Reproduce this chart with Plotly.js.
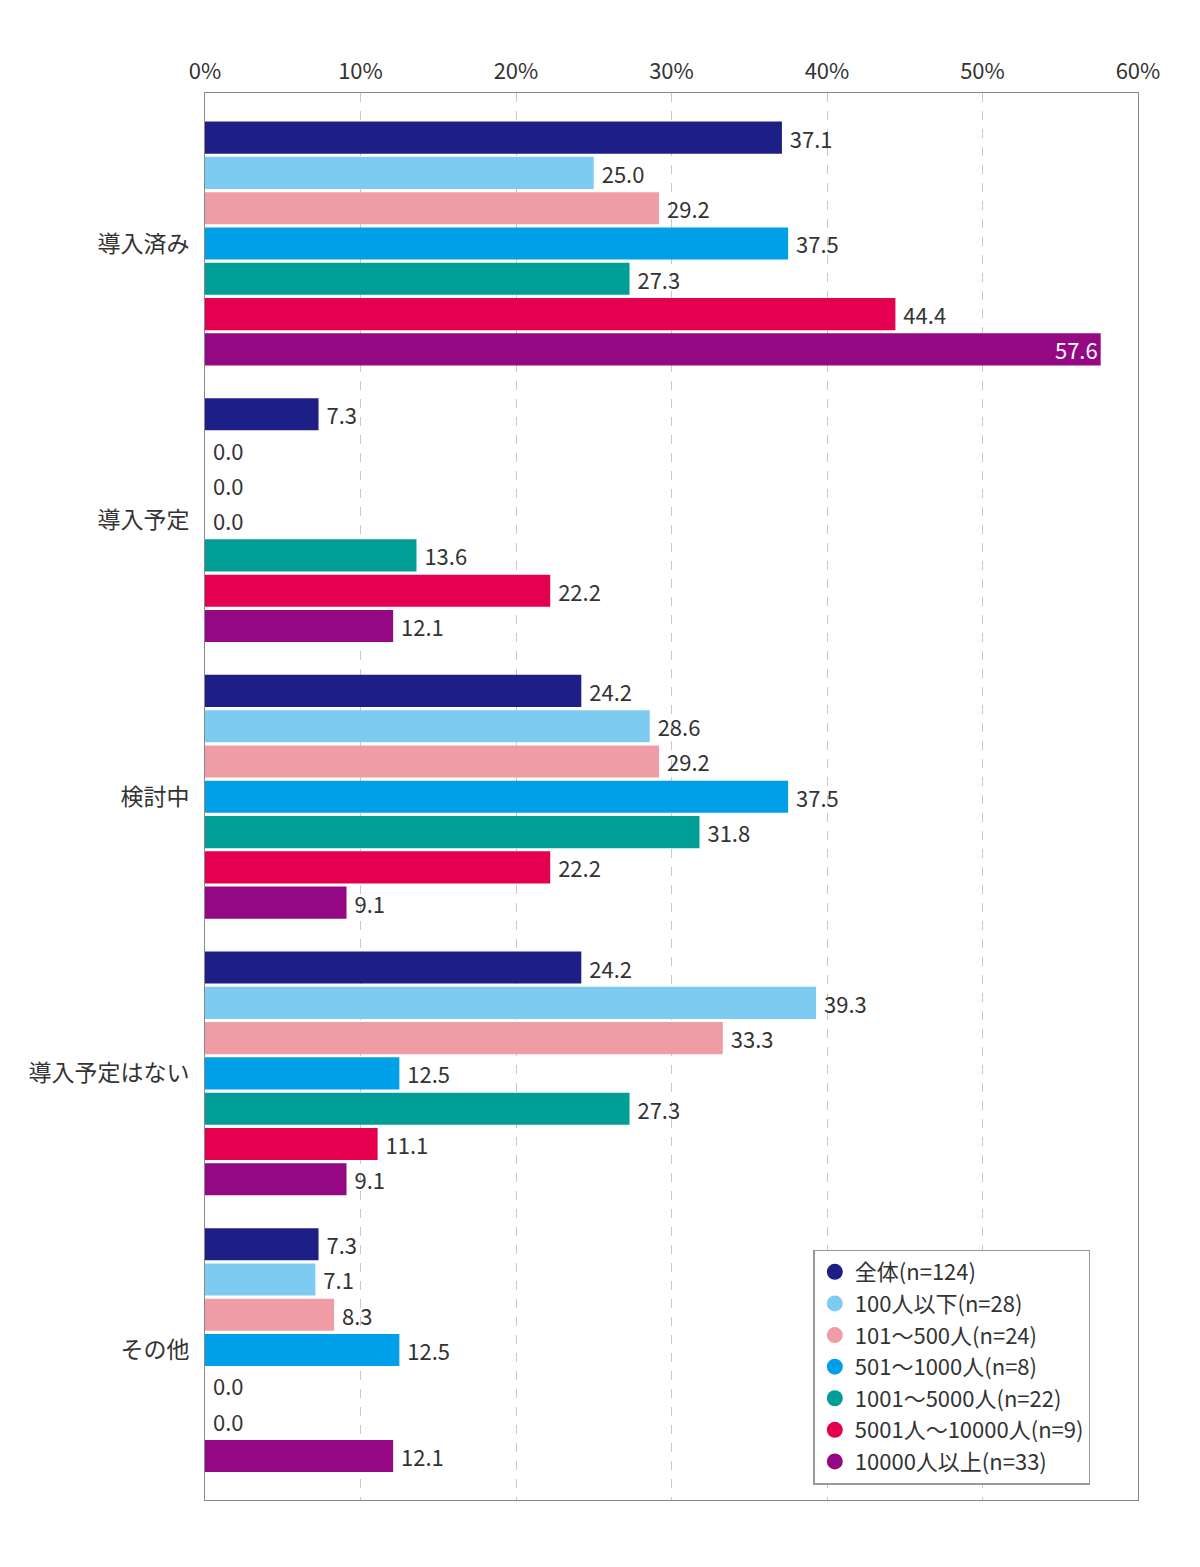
<!DOCTYPE html>
<html>
<head>
<meta charset="utf-8">
<script src="https://cdn.plot.ly/plotly-3.0.1.min.js"></script>
<style>
  body { margin: 0; background: #fff; }
  #chart { width: 1200px; height: 1567px; }
</style>
</head>
<body>
<div id="chart"></div>
<script>
const categories = ['導入済み', '導入予定', '検討中', '導入予定はない', 'その他'];
const seriesNames = ['全体(n=124)', '100人以下(n=28)', '101～500人(n=24)', '501～1000人(n=8)', '1001～5000人(n=22)', '5001人～10000人(n=9)', '10000人以上(n=33)'];
const seriesColors = ['#1e1e87', '#7ecbf2', '#f09ca7', '#00a0e8', '#009e96', '#e4004f', '#950883'];

const all_n124 = [37.1, 7.3, 24.2, 24.2, 7.3];
const under100 = [25.0, 0.0, 28.6, 39.3, 7.1];
const s101_500 = [29.2, 0.0, 29.2, 33.3, 8.3];
const s501_1000 = [37.5, 0.0, 37.5, 12.5, 12.5];
const s1001_5000 = [27.3, 13.6, 31.8, 27.3, 0.0];
const s5001_10000 = [44.4, 22.2, 22.2, 11.1, 0.0];
const over10000 = [57.6, 12.1, 9.1, 9.1, 12.1];

const seriesValues = [all_n124, under100, s101_500, s501_1000, s1001_5000, s5001_10000, over10000];
const tickVals = [0, 10, 20, 30, 40, 50, 60];
const tickText = ['0%', '10%', '20%', '30%', '40%', '50%', '60%'];

const font = '"Noto Sans CJK JP", "Noto Sans", sans-serif';

const traces = [];
seriesValues.forEach((vals, i) => {
  traces.push({
    type: 'bar',
    orientation: 'h',
    y: categories,
    x: vals,
    name: seriesNames[i],
    marker: { color: seriesColors[i] },
    texttemplate: vals.map(v => v > 50 ? '%{x:.1f}' : ' %{x:.1f}'),
    textposition: vals.map(v => v > 50 ? 'inside' : 'outside'),
    insidetextanchor: 'end',
    constraintext: 'none',
    insidetextfont: { color: '#ffffff', size: 22, family: font },
    outsidetextfont: { color: '#333333', size: 22, family: font },
    cliponaxis: false,
    showlegend: false,
    hoverinfo: 'skip'
  });
});
// legend entries with round markers
seriesNames.forEach((name, i) => {
  traces.push({
    type: 'scatter',
    mode: 'markers',
    x: [null], y: [null],
    name: name,
    marker: { color: seriesColors[i], size: 20, symbol: 'circle' },
    showlegend: true
  });
});

const layout = {
  width: 1200,
  height: 1567,
  margin: { l: 205, r: 62, t: 93, b: 67 },
  paper_bgcolor: '#ffffff',
  plot_bgcolor: '#ffffff',
  font: { family: font, color: '#333333', size: 22 },
  barmode: 'group',
  bargap: 0.107,
  bargroupgap: 0.09,
  xaxis: {
    side: 'top',
    range: [0, 60],
    tickvals: tickVals,
    ticktext: tickText,
    tickfont: { size: 22, color: '#333333', family: font },
    showgrid: true,
    gridcolor: '#c8c8c8',
    griddash: 'dash',
    gridwidth: 1,
    zeroline: false,
    showline: true,
    linecolor: '#888888',
    linewidth: 1,
    mirror: true,
    ticks: '',
    ticklabelstandoff: 4,
    fixedrange: true
  },
  yaxis: {
    range: [4.542, -0.544],
    tickfont: { size: 23, color: '#333333', family: font },
    showline: true,
    linecolor: '#888888',
    linewidth: 1,
    mirror: true,
    showgrid: false,
    ticks: '',
    ticklabelstandoff: 10,
    fixedrange: true
  },
  legend: {
    x: 0.652,
    y: 0.178,
    xanchor: 'left',
    yanchor: 'top',
    bgcolor: '#ffffff',
    bordercolor: '#999999',
    borderwidth: 1.5,
    font: { size: 22, color: '#333333', family: font },
    itemsizing: 'trace',
    tracegroupgap: 0
  },
  showlegend: true
};

Plotly.newPlot('chart', traces, layout, { displayModeBar: false, staticPlot: true });
</script>
</body>
</html>
